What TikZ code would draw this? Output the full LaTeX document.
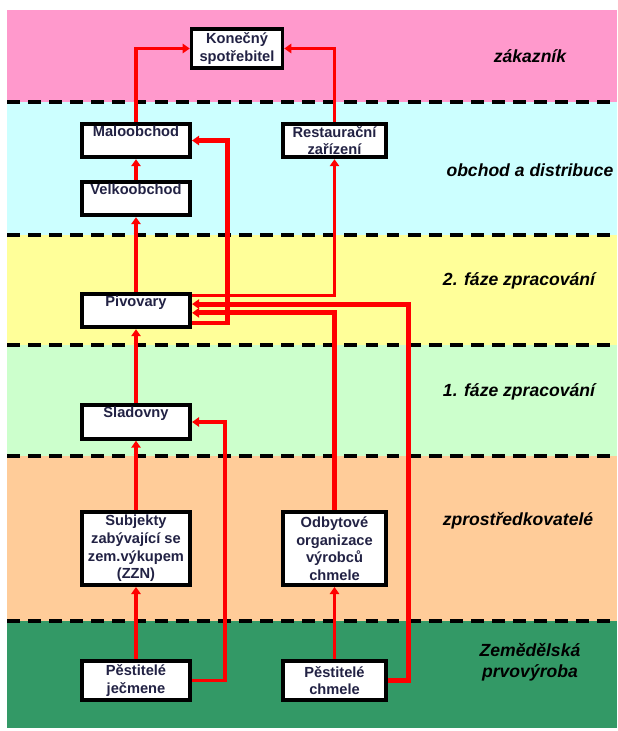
\documentclass[tikz,border=0pt]{standalone}
\usepackage{fontspec}
\setmainfont{Liberation Sans}
\usetikzlibrary{arrows.meta}

\definecolor{zakaznik}{RGB}{255,153,204}
\definecolor{obchod}{RGB}{204,255,255}
\definecolor{fazedva}{RGB}{255,255,153}
\definecolor{fazejedna}{RGB}{204,255,204}
\definecolor{zprost}{RGB}{255,204,153}
\definecolor{prvo}{RGB}{51,153,102}
\definecolor{boxtext}{RGB}{34,34,68}

\begin{document}
\begin{tikzpicture}[x=0.03cm, y=-0.03cm,
  box/.style={draw=black, line width=3.2pt, fill=white, text=boxtext, align=center, inner sep=1.5pt, font=\bfseries\fontsize{12.5}{15}\selectfont},
  onerow/.style={text height=9pt, text depth=16.2pt, minimum height=28.7pt},
  leftcol/.style={minimum width=92.5pt},
  rightcol/.style={minimum width=88.5pt},
  band/.style={font=\bfseries\itshape\fontsize{15}{18}\selectfont, align=center},
  sep/.style={draw=black, line width=2.6pt, dash pattern=on 11pt off 7pt},
  flow/.style={draw=red, line width=2.8pt, -{Triangle[length=6pt,width=8pt]}},
  heavy/.style={flow, line width=4.2pt}]
  \useasboundingbox (0,0) rectangle (617,731);

  % layers
  \fill[zakaznik] (7,10) rectangle (617,102);
  \fill[obchod] (7,102) rectangle (617,235);
  \fill[fazedva] (7,235) rectangle (617,345);
  \fill[fazejedna] (7,345) rectangle (617,456);
  \fill[zprost] (7,456) rectangle (617,621);
  \fill[prvo] (7,621) rectangle (617,728);
  \draw[sep] (7,102) -- (617,102);
  \draw[sep] (7,235) -- (617,235);
  \draw[sep] (7,345) -- (617,345);
  \draw[sep] (7,456) -- (617,456);
  \draw[sep] (7,621) -- (617,621);

  \node[band] (lzak) at (530,56) {zákazník};
  \node[band] (lobch) at (530,170) {obchod a distribuce};
  \node[band] (lfdva) at (519,281) {2. fáze zpracování};
  \node[band] (lfjedna) at (519,392) {1. fáze zpracování};
  \node[band] (lzpro) at (518,521) {zprostředkovatelé};
  \node[band] (lprvo) at (530,662) {Zemědělská\\prvovýroba};

  % boxes
  \node[box, minimum width=77.5pt, minimum height=33.5pt] (kon) at (237,48.5) {Konečný\\spotřebitel};
  \node[box, onerow, leftcol] (malo) at (136,140.5) {Maloobchod};
  \node[box, rightcol, minimum height=28.7pt] (rest) at (334.5,140.5) {Restaurační\\zařízení};
  \node[box, onerow, leftcol] (velk) at (136,198.5) {Velkoobchod};
  \node[box, onerow, leftcol] (piv) at (136,310.5) {Pivovary};
  \node[box, onerow, leftcol] (slad) at (136,422) {Sladovny};
  \node[box, leftcol, minimum height=62.5pt] (subj) at (136,548.5) {Subjekty\\zabývající se\\zem.výkupem\\(ZZN)};
  \node[box, rightcol, minimum height=62.5pt] (odb) at (334.5,548.5) {Odbytové\\organizace\\výrobců\\chmele};
  \node[box, leftcol, minimum height=33.5pt] (jec) at (136,680.5) {Pěstitelé\\ječmene};
  \node[box, rightcol, minimum height=33.5pt] (chm) at (334.5,680.5) {Pěstitelé\\chmele};

  % flows
  \draw[flow] (malo.north) |- (kon.west);
  \draw[flow] (rest.north) |- (kon.east);
  \draw[flow] (velk) -- (malo);
  \draw[flow] (piv) -- (velk);
  \draw[flow] (slad) -- (piv);
  \draw[flow] (subj) -- (slad);
  \draw[flow] (jec) -- (subj);
  \draw[flow] (chm) -- (odb);
  \draw[flow] (jec.east) -- ++(33,0) |- (slad.east);
  \draw[flow] ([yshift=13pt]piv.east) -| (rest.south);
  \draw[heavy] (chm.east) -- ++(20,0) |- ([yshift=5.5pt]piv.east);
  \draw[heavy] (odb.north) |- ([yshift=-2pt]piv.east);
  \draw[heavy] ([yshift=-10.7pt]piv.east) -- ++(35,0) |- (malo.east);
\end{tikzpicture}
\end{document}
